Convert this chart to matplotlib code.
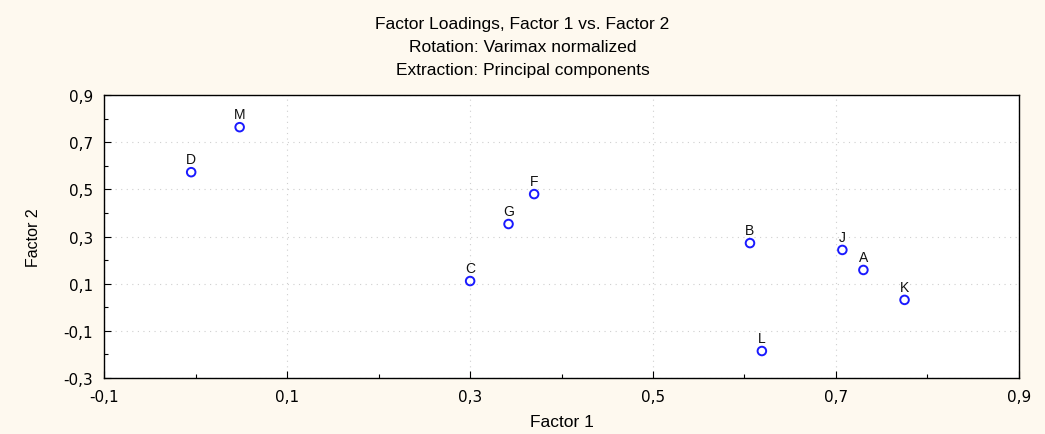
import matplotlib
matplotlib.use("Agg")
import matplotlib.pyplot as plt
import numpy as np
from matplotlib.ticker import FuncFormatter

variables = ["A", "B", "C", "D", "F", "G", "J", "K", "L", "M"]
factor1 = [0.730, 0.606, 0.300, -0.005, 0.370, 0.342, 0.707, 0.775, 0.619, 0.048]
factor2 = [0.158, 0.272, 0.111, 0.573, 0.480, 0.353, 0.243, 0.031, -0.186, 0.764]

title_lines = ["Factor Loadings, Factor 1 vs. Factor 2",
               "Rotation: Varimax normalized",
               "Extraction: Principal components"]

plt.rcParams['font.family'] = ['Liberation Sans', 'DejaVu Sans']

bg = '#fef9ef'
fig = plt.figure(figsize=(10.45, 4.35), dpi=100, facecolor=bg)
ax = fig.add_axes([0.0998, 0.129, 0.8752, 0.650])
ax.set_facecolor('white')

ax.scatter(factor1, factor2, s=38, facecolors='none', edgecolors='#1a1aff', linewidths=1.4, zorder=3)
for name, x, y in zip(variables, factor1, factor2):
    ax.annotate(name, (x, y), xytext=(0, 4.5), textcoords='offset points',
                ha='center', va='bottom', fontsize=10, color='#111111')

ax.set_xlim(-0.1, 0.9)
ax.set_ylim(-0.3, 0.9)
ax.set_xticks(np.arange(-0.1, 0.91, 0.2))
ax.set_yticks(np.arange(-0.3, 0.91, 0.2))
ax.set_xticks(np.arange(0.0, 0.81, 0.2), minor=True)
ax.set_yticks(np.arange(-0.2, 0.81, 0.2), minor=True)
fmt = FuncFormatter(lambda v, p: f"{v:.1f}".replace('.', ','))
ax.xaxis.set_major_formatter(fmt)
ax.yaxis.set_major_formatter(fmt)
ax.tick_params(which='both', direction='in', top=False, right=False, colors='black')
ax.tick_params(which='major', length=5, width=0.8, pad=8)
ax.tick_params(which='minor', length=3, width=0.8)
for lab in ax.get_xticklabels() + ax.get_yticklabels():
    lab.set_fontfamily('DejaVu Sans')
    lab.set_fontsize(11)
ax.grid(True, which='major', linestyle=(0, (1, 4)), color='#cfcfcf', linewidth=0.8)
for s in ax.spines.values():
    s.set_linewidth(1.0)
    s.set_color('black')

ax.set_xlabel("Factor 1", fontsize=12.5, labelpad=7)
ax.set_ylabel("Factor 2", fontsize=11.5, family=['Liberation Sans Narrow', 'Liberation Sans'], labelpad=16)

for i, line in enumerate(title_lines):
    fig.text(0.5, 1 - (24 + 23 * i) / 435, line, ha='center', va='center', fontsize=12.5,
             family=['Liberation Sans Narrow', 'Liberation Sans'])

fig.savefig("out.png", dpi=100, facecolor=bg)
